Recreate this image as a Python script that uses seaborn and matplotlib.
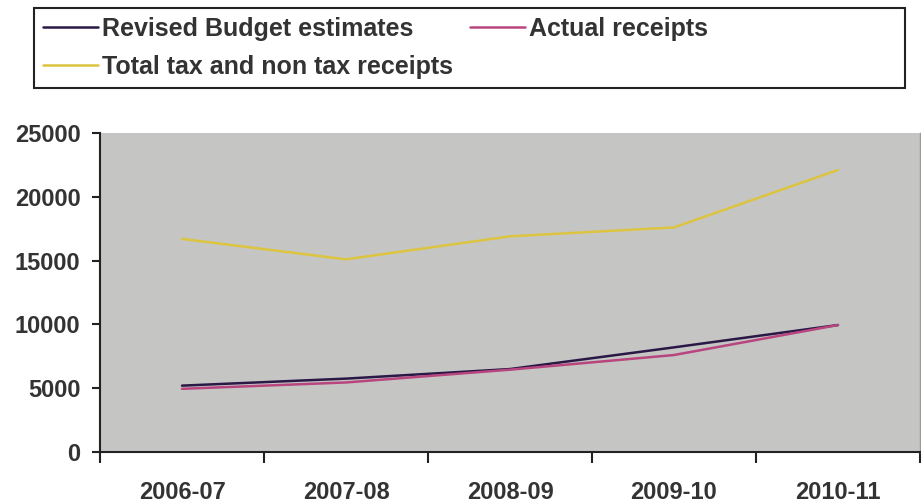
import pandas as pd
import numpy as np
import matplotlib.pyplot as plt
import seaborn as sns
from matplotlib.patches import Rectangle
from matplotlib.ticker import FixedLocator

years = ["2006-07", "2007-08", "2008-09", "2009-10", "2010-11"]
revised_budget = [5200, 5750, 6500, 8200, 9950]
actual_receipts = [4950, 5450, 6450, 7600, 9950]
total_receipts = [16700, 15100, 16900, 17600, 22100]

series_names = ["Revised Budget estimates", "Actual receipts", "Total tax and non tax receipts"]
colors = ["#2a1846", "#b8457e", "#dcc440"]

df = pd.DataFrame({
    "year": years * 3,
    "value": revised_budget + actual_receipts + total_receipts,
    "series": [series_names[0]] * 5 + [series_names[1]] * 5 + [series_names[2]] * 5,
})
df["pos"] = df["year"].map({y: i for i, y in enumerate(years)})

sns.set_style("white")
plt.rcParams["font.family"] = ["Liberation Sans", "DejaVu Sans"]
plt.rcParams["font.weight"] = "bold"

fig = plt.figure(figsize=(9.21, 5.03), dpi=100)
ax = fig.add_axes([0.1086, 0.1014, 0.8903, 0.6342])
ax.set_facecolor("#c5c6c4")

sns.lineplot(data=df, x="pos", y="value", hue="series", hue_order=series_names,
             palette=colors, linewidth=1.8, ax=ax, legend=False)

ax.set_xlim(-0.5, 4.5)
ax.set_ylim(0, 25000)
ax.set_yticks([0, 5000, 10000, 15000, 20000, 25000])
ax.set_xticks(range(5))
ax.set_xticklabels(years)
ax.xaxis.set_minor_locator(FixedLocator(np.arange(-0.5, 5, 1)))
ax.tick_params(axis="x", which="major", bottom=True, length=0, pad=21, labelsize=17, labelcolor="#333333")
ax.tick_params(axis="x", which="minor", bottom=True, length=8, width=1.5, color="#222222", direction="out")
ax.tick_params(axis="y", left=True, length=6, width=1.5, color="#222222", direction="out", pad=8,
               labelsize=17, labelcolor="#333333")
for lab in ax.get_xticklabels() + ax.get_yticklabels():
    lab.set_fontweight("bold")
ax.set_xlabel("")
ax.set_ylabel("")

ax.spines["top"].set_visible(False)
ax.spines["right"].set_color("#999999")
ax.spines["right"].set_linewidth(1)
for s in ["left", "bottom"]:
    ax.spines[s].set_color("#222222")
    ax.spines[s].set_linewidth(1.5)

# legend box
fig.patches.append(Rectangle((0.037, 0.825), 0.946, 0.159, transform=fig.transFigure,
                             fill=False, edgecolor="#222222", linewidth=1.5))
handles = [plt.Line2D([], [], color=c, linewidth=1.8) for c in colors]
order = [0, 2, 1]
fig.legend([handles[i] for i in order], [series_names[i] for i in order],
           loc="upper left", bbox_to_anchor=(0.0467, 0.966), ncol=2, frameon=False,
           handlelength=2.2, handletextpad=0.15, columnspacing=0.68,
           labelspacing=0.56, borderpad=0, borderaxespad=0,
           labelcolor="#333333", prop={"weight": "bold", "size": 18})

fig.savefig("out.png", dpi=100, facecolor="white")
